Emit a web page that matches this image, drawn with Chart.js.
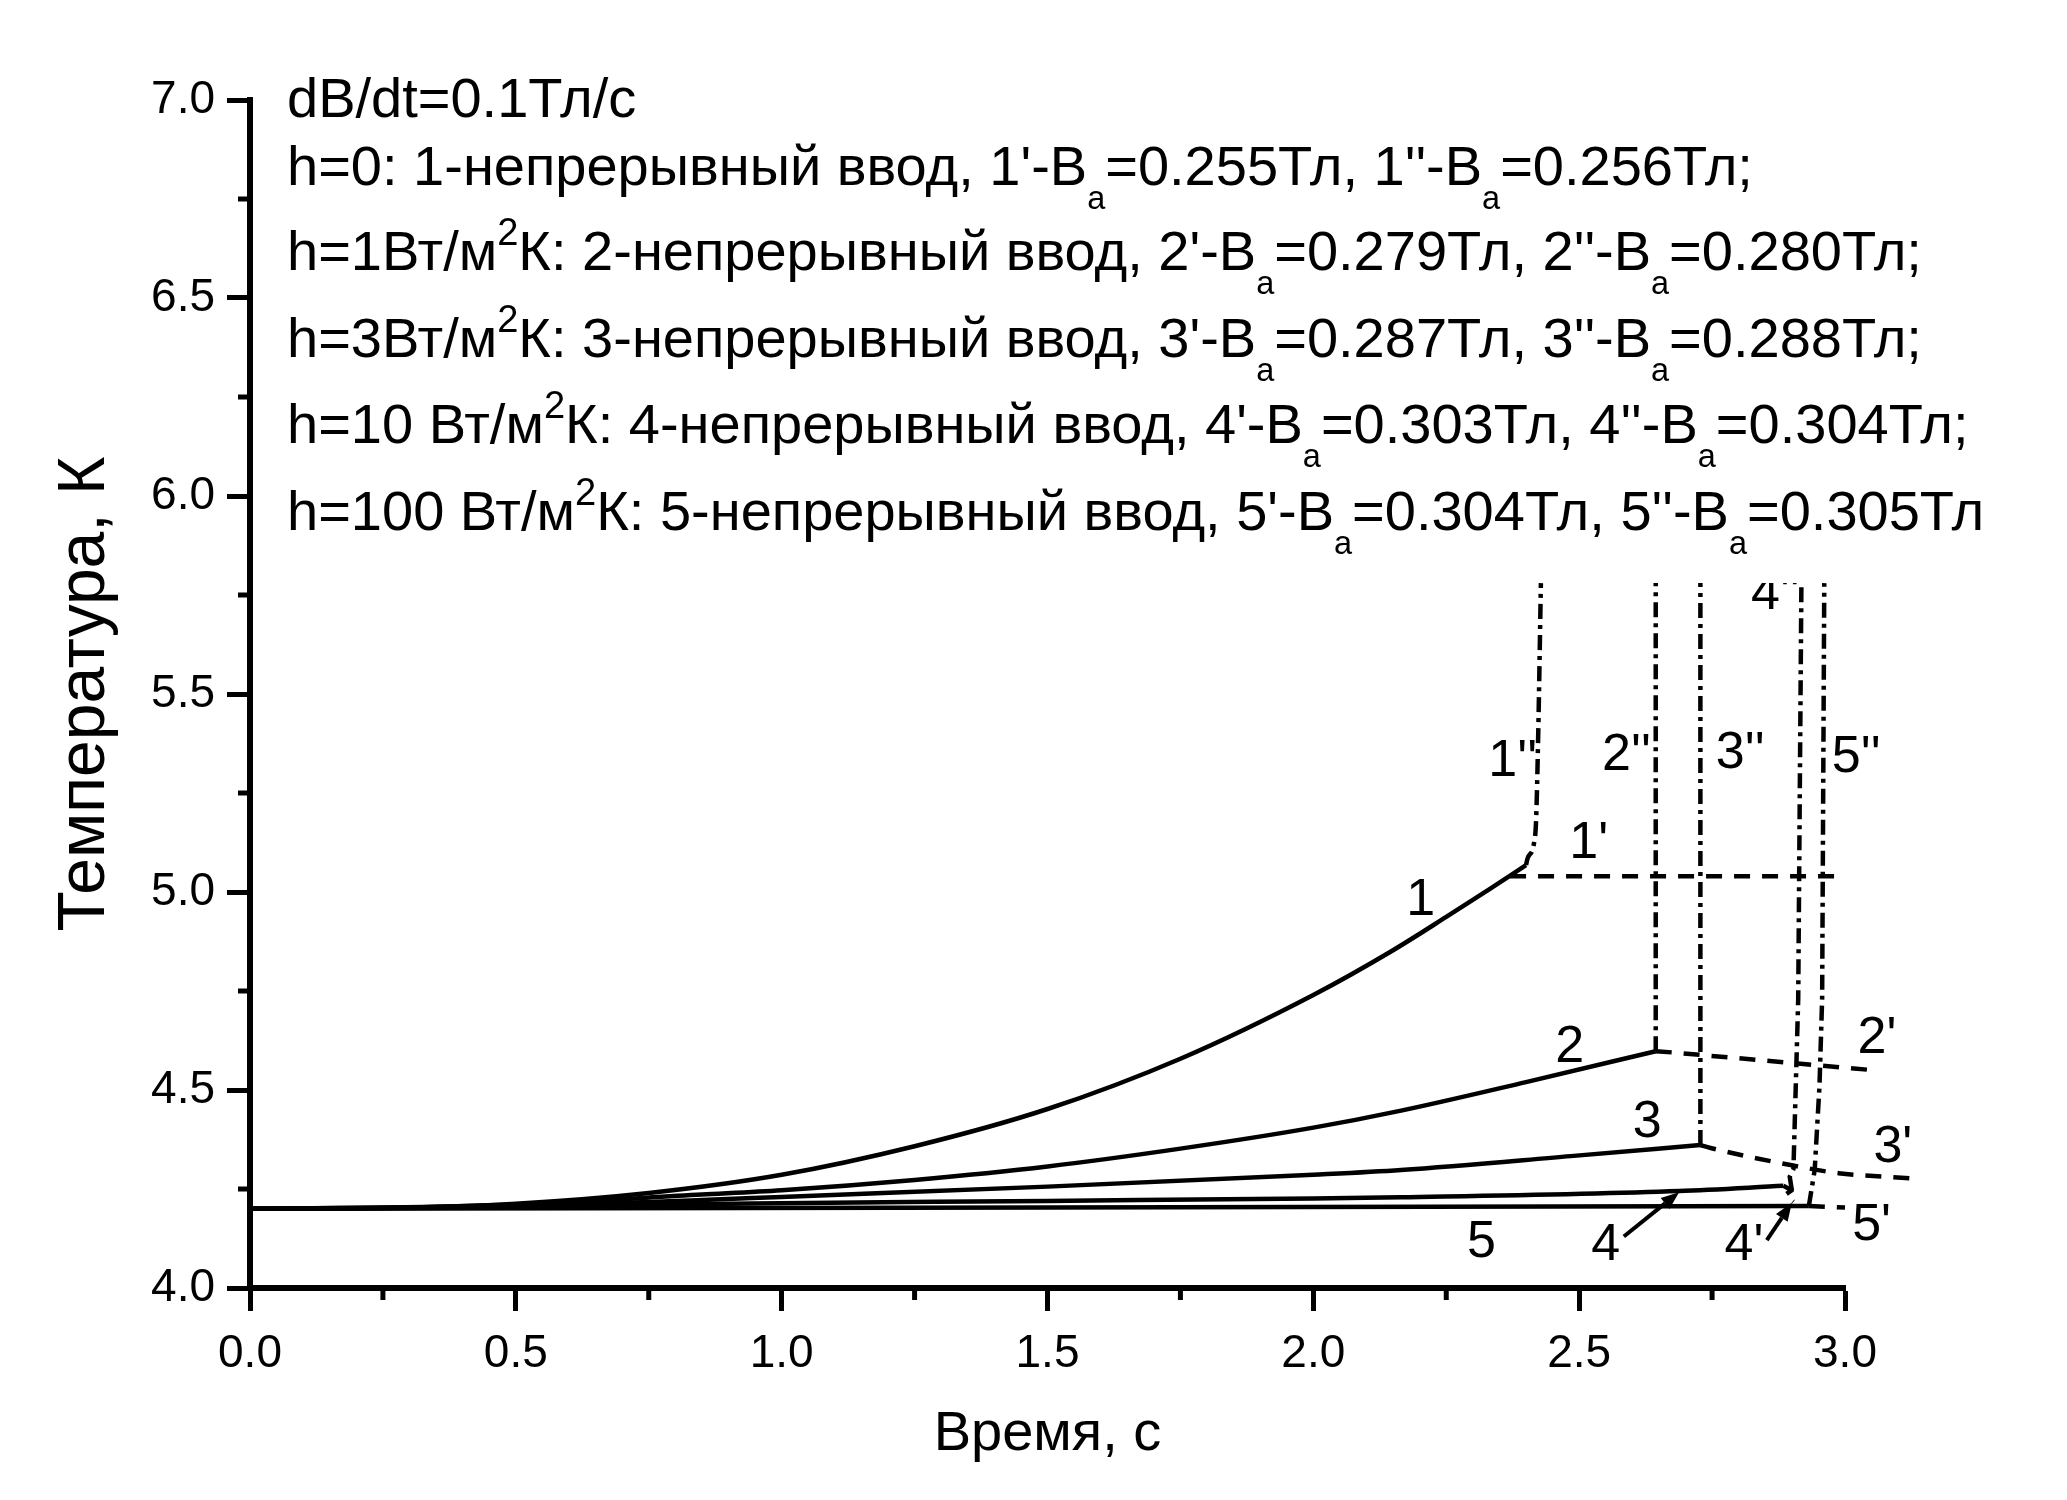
<!DOCTYPE html>
<html>
<head>
<meta charset="utf-8">
<script src="https://cdn.jsdelivr.net/npm/chart.js@4.4.0/dist/chart.umd.min.js"></script>
<style>
html,body{margin:0;padding:0;background:#fff;}
#wrap{width:2067px;height:1500px;position:relative;background:#fff;}
</style>
</head>
<body>
<div id="wrap"><canvas id="c" width="2067" height="1500"></canvas></div>
<script>
const FONT = '"Liberation Sans", Arial, Helvetica, sans-serif';

// ---- axis ticks ----
const xTicks = [0.0, 0.5, 1.0, 1.5, 2.0, 2.5, 3.0];
const yTicks = [4.0, 4.5, 5.0, 5.5, 6.0, 6.5, 7.0];
const xMinor = [0.25, 0.75, 1.25, 1.75, 2.25, 2.75];
const yMinor = [4.25, 4.75, 5.25, 5.75, 6.25, 6.75];

// ---- continuous input curves (time s, temperature K) ----
const curve1 = [[0,4.2],[0.25,4.202],[0.5,4.213],[0.75,4.24],[1.0,4.286],[1.25,4.358],[1.5,4.452],[1.75,4.579],[2.0,4.74],[2.15,4.853],[2.25,4.937],[2.33,5.006],[2.40,5.068]];
const curve2 = [[0,4.2],[0.25,4.203],[0.5,4.211],[0.85,4.236],[1.0,4.247],[1.25,4.273],[1.5,4.307],[1.75,4.352],[2.0,4.405],[2.165,4.448],[2.4,4.52],[2.644,4.598]];
const curve3 = [[0,4.2],[0.5,4.207],[0.85,4.222],[1.0,4.23],[1.5,4.256],[2.0,4.286],[2.165,4.298],[2.484,4.333],[2.728,4.361]];
const curve4 = [[0,4.2],[0.5,4.204],[0.85,4.212],[1.5,4.22],[2.0,4.226],[2.164,4.229],[2.688,4.245],[2.884,4.258]];
const curve5 = [[0,4.2],[1.5,4.203],[2.932,4.207]];

// ---- single prime (dashed) ----
const prime1 = [[2.37,5.04],[2.98,5.04]];
const prime2 = [[2.644,4.598],[2.674,4.595],[3.045,4.551]];
const prime3 = [[2.728,4.361],[2.749,4.353],[2.9,4.31],[2.988,4.29],[3.124,4.277]];
const prime4 = [[2.884,4.258],[2.9,4.247],[2.887,4.235],[2.903,4.218]];
const prime5 = [[2.932,4.207],[2.962,4.205],[3.0,4.203]];

// ---- double prime (dash-dot) ----
const dprime1 = [[2.40,5.068],[2.403,5.085],[2.415,5.123],[2.419,5.182],[2.423,5.40],[2.428,5.78]];
const dprime2 = [[2.644,4.598],[2.644,5.78]];
const dprime3 = [[2.728,4.361],[2.728,5.78]];
const dprime4 = [[2.9,4.247],[2.896,4.281],[2.903,4.30],[2.912,4.73],[2.918,5.78]];
const dprime5 = [[2.932,4.207],[2.943,4.298],[2.952,4.51],[2.957,4.73],[2.961,5.78]];

// ---- curve labels [text, t, T] ----
const curveLabels = [
  ['1', 2.202, 4.977], ["1'", 2.518, 5.121], ["1''", 2.375, 5.329],
  ["2''", 2.589, 5.344], ["3''", 2.803, 5.35], ["4''", 2.869, 5.75], ["5''", 3.021, 5.34],
  ['2', 2.482, 4.606], ["2'", 3.06, 4.63], ['3', 2.628, 4.417], ["3'", 3.09, 4.354],
  ['4', 2.55, 4.108], ["4'", 2.81, 4.108], ['5', 2.316, 4.115], ["5'", 3.05, 4.158]
];
// ---- annotation arrows [tailT, tailK, headT, headK] ----
const arrows = [[2.584, 4.13, 2.688, 4.242], [2.853, 4.121, 2.9, 4.215]];
const clipTop = 5.78;

// ---- legend text lines ----
const legendLines = [
  'dB/dt=0.1Тл/с',
  "h=0: 1-непрерывный ввод, 1'-B_{a}=0.255Тл, 1''-B_{a}=0.256Тл;",
  "h=1Вт/м^{2}К: 2-непрерывный ввод, 2'-B_{a}=0.279Тл, 2''-B_{a}=0.280Тл;",
  "h=3Вт/м^{2}К: 3-непрерывный ввод, 3'-B_{a}=0.287Тл, 3''-B_{a}=0.288Тл;",
  "h=10 Вт/м^{2}К: 4-непрерывный ввод, 4'-B_{a}=0.303Тл, 4''-B_{a}=0.304Тл;",
  "h=100 Вт/м^{2}К: 5-непрерывный ввод, 5'-B_{a}=0.304Тл, 5''-B_{a}=0.305Тл"
];
const legendBaselines = [117, 185, 270, 357, 443, 530];
const legendX = 287;
const LEGEND_F = 56;

const DASH = [16, 12];
const DASHDOT = [15, 6, 4, 6];

function ds(pts, dash, smooth) {
  return {
    data: pts.map(p => ({x: p[0], y: p[1]})),
    borderColor: '#000', borderWidth: 4.5, borderDash: dash || [],
    pointRadius: 0, showLine: true, fill: false, clip: false,
    tension: 0, cubicInterpolationMode: smooth ? 'monotone' : 'default',
    borderCapStyle: 'butt', borderJoinStyle: 'round'
  };
}

function drawRich(ctx, str, x, y, F) {
  const parts = str.split(/(\^\{[^}]*\}|_\{[^}]*\})/).filter(s => s.length);
  let cx = x;
  for (const p of parts) {
    let size = F, dy = 0, t = p;
    if (p.startsWith('^{')) { size = F * 0.68; dy = -F * 0.45; t = p.slice(2, -1); }
    else if (p.startsWith('_{')) { size = F * 0.58; dy = F * 0.42; t = p.slice(2, -1); }
    ctx.font = size + 'px ' + FONT;
    ctx.fillText(t, cx, y + dy);
    cx += ctx.measureText(t).width;
  }
}

const overlay = {
  id: 'overlay',
  afterDraw(chart) {
    const ctx = chart.ctx, xs = chart.scales.x, ys = chart.scales.y;
    const area = chart.chartArea;
    ctx.save();
    ctx.strokeStyle = '#000'; ctx.fillStyle = '#000';
    ctx.lineWidth = 5; ctx.lineCap = 'butt';
    xMinor.forEach(v => {
      const px = xs.getPixelForValue(v);
      ctx.beginPath(); ctx.moveTo(px, area.bottom); ctx.lineTo(px, area.bottom + 12); ctx.stroke();
    });
    yMinor.forEach(v => {
      const py = ys.getPixelForValue(v);
      ctx.beginPath(); ctx.moveTo(area.left, py); ctx.lineTo(area.left - 12, py); ctx.stroke();
    });

    // arrows
    ctx.lineWidth = 4;
    arrows.forEach(a => {
      const x1 = xs.getPixelForValue(a[0]), y1 = ys.getPixelForValue(a[1]);
      const x2 = xs.getPixelForValue(a[2]), y2 = ys.getPixelForValue(a[3]);
      const ang = Math.atan2(y2 - y1, x2 - x1);
      const L = 18, W = 7;
      const bx = x2 - L * Math.cos(ang), by = y2 - L * Math.sin(ang);
      ctx.beginPath(); ctx.moveTo(x1, y1); ctx.lineTo(bx, by); ctx.stroke();
      ctx.beginPath();
      ctx.moveTo(x2, y2);
      ctx.lineTo(bx + W * Math.sin(ang), by - W * Math.cos(ang));
      ctx.lineTo(bx - W * Math.sin(ang), by + W * Math.cos(ang));
      ctx.closePath(); ctx.fill();
    });

    // curve labels (clipped below the text block edge)
    const yClip = ys.getPixelForValue(clipTop);
    ctx.save();
    ctx.beginPath(); ctx.rect(0, yClip, chart.width, chart.height - yClip); ctx.clip();
    ctx.font = '52px ' + FONT;
    ctx.textAlign = 'center'; ctx.textBaseline = 'middle';
    curveLabels.forEach(l => {
      ctx.fillText(l[0], xs.getPixelForValue(l[1]), ys.getPixelForValue(l[2]));
    });
    ctx.restore();

    // legend text block
    ctx.textAlign = 'left'; ctx.textBaseline = 'alphabetic';
    legendLines.forEach((s, i) => drawRich(ctx, s, legendX, legendBaselines[i], LEGEND_F));
    ctx.restore();
  }
};

const ctx = document.getElementById('c').getContext('2d');
new Chart(ctx, {
  type: 'scatter',
  data: {
    datasets: [
      ds(curve1, null, true), ds(curve2, null, true), ds(curve3, null, true),
      ds(curve4, null, true), ds(curve5, null, true),
      ds(prime1, DASH), ds(prime2, DASH), ds(prime3, DASH, true), ds(prime4, DASH), ds(prime5, DASH),
      ds(dprime1, DASHDOT, true), ds(dprime2, DASHDOT), ds(dprime3, DASHDOT), ds(dprime4, DASHDOT), ds(dprime5, DASHDOT)
    ]
  },
  options: {
    responsive: false, animation: false, devicePixelRatio: 1, events: [],
    layout: { padding: { left: 0, top: 100, right: 222, bottom: 0 } },
    plugins: { legend: { display: false }, tooltip: { enabled: false } },
    scales: {
      x: {
        type: 'linear', min: 0, max: 3.0,
        afterBuildTicks: s => { s.ticks = xTicks.map(v => ({value: v})); },
        afterFit: s => { s.height = 212; },
        border: { display: true, color: '#000', width: 6 },
        grid: { drawOnChartArea: false, drawTicks: true, tickLength: 23, tickWidth: 5, tickColor: '#000', color: '#000' },
        ticks: { color: '#000', font: { size: 46, family: FONT }, padding: 16, maxRotation: 0, autoSkip: false,
                 callback: v => Number(v).toFixed(1) },
        title: { display: true, text: 'Время, с', color: '#000', font: { size: 56, family: FONT }, padding: { top: 0, bottom: 32 } }
      },
      y: {
        type: 'linear', min: 4.0, max: 7.0,
        afterBuildTicks: s => { s.ticks = yTicks.map(v => ({value: v})); },
        afterFit: s => { s.width = 250; },
        border: { display: true, color: '#000', width: 6 },
        grid: { drawOnChartArea: false, drawTicks: true, tickLength: 23, tickWidth: 5, tickColor: '#000', color: '#000' },
        ticks: { color: '#000', font: { size: 46, family: FONT }, padding: 12, autoSkip: false,
                 callback: v => Number(v).toFixed(1) },
        title: { display: true, text: 'Температура, К', color: '#000', font: { size: 66, family: FONT }, padding: { top: 46, bottom: 0 } }
      }
    }
  },
  plugins: [overlay]
});
</script>
</body>
</html>
